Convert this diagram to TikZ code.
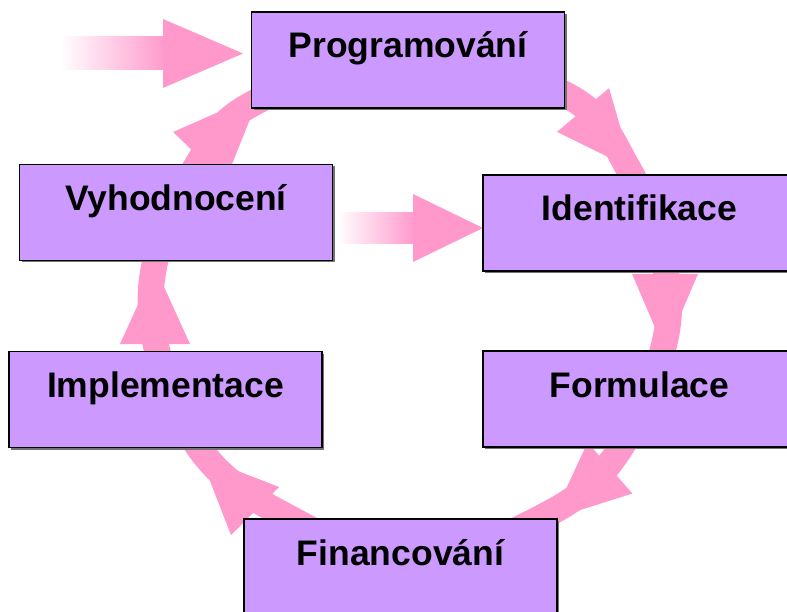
\documentclass[tikz,border=0pt]{standalone}
\usepackage{fontspec}
\setmainfont{Liberation Sans}
\usetikzlibrary{shadows}
\definecolor{boxfill}{HTML}{CC99FF}
\definecolor{ringpink}{HTML}{FF99CC}
\tikzset{
  stagebox/.style={draw=black, line width=1.6pt, fill=boxfill,
    minimum width=313pt, inner xsep=0pt, inner ysep=0pt,
    text height=46pt, text depth=50pt,
    font=\fontsize{35.5}{40}\selectfont\bfseries,
    drop shadow={shadow xshift=2pt, shadow yshift=-2pt, fill=black!55, opacity=1}},
  ringband/.style={draw=ringpink, line width=26pt},
  ringhead/.style={fill=ringpink},
  fadeshaft/.style={left color=white, right color=ringpink, draw=none},
}
\begin{document}
\begin{tikzpicture}[x=1pt,y=-1pt]
\clip (0,0) rectangle (787,612);
\fill[white] (0,0) rectangle (787,612);

% points of the cycle band (y grows downwards)
\coordinate (r1) at (408,50);
\coordinate (r2) at (568,96);
\coordinate (r3) at (628,168);
\coordinate (r4) at (664,262);
\coordinate (r5) at (664,345);
\coordinate (r6) at (618,452);
\coordinate (r7) at (548,514);
\coordinate (r8) at (410,562);
\coordinate (r9) at (282,514);
\coordinate (r10) at (202,452);
\coordinate (r11) at (157,350);
\coordinate (r12) at (155,262);
\coordinate (r13) at (197,165);
\coordinate (r14) at (252,104);

% the band behind the boxes
\draw[ringband] plot[smooth cycle, tension=0.6] coordinates
  {(r1) (r2) (r3) (r4) (r5) (r6) (r7) (r8) (r9) (r10) (r11) (r12) (r13) (r14)};

% arrow heads along the band (base midpoints)
\coordinate (hA) at (583,110);
\coordinate (hB) at (665,274);
\coordinate (hC) at (610,468);
\coordinate (hD) at (255,511);
\coordinate (hE) at (155,344);
\coordinate (hF) at (199,157);
\fill[ringhead, shift={(hA)}, rotate=-50]    (0,-34) -- (77,0) -- (0,34) -- cycle;
\fill[ringhead, shift={(hB)}, rotate=-90]    (0,-33) -- (77,0) -- (0,33) -- cycle;
\fill[ringhead, shift={(hC)}, rotate=-138.7] (0,-34) -- (77,0) -- (0,34) -- cycle;
\fill[ringhead, shift={(hD)}, rotate=135]    (0,-34) -- (77,0) -- (0,34) -- cycle;
\fill[ringhead, shift={(hE)}, rotate=90]     (0,-35) -- (77,0) -- (0,35) -- cycle;
\fill[ringhead, shift={(hF)}, rotate=46]     (0,-36) -- (88,0) -- (0,36) -- cycle;

% incoming arrow at the top left
\coordinate (gS) at (60,37);
\coordinate (gE) at (166,70);
\coordinate (gB1) at (163,19);
\coordinate (gB2) at (163,88);
\coordinate (gT) at (243,53.5);
\shade[fadeshaft] (gS) rectangle (gE);
\fill[ringhead] (gB1) -- (gT) -- (gB2) -- cycle;

% arrow from the evaluation box to the identification box
\coordinate (mS) at (337,212.5);
\coordinate (mE) at (415,243.5);
\coordinate (mB1) at (413,194);
\coordinate (mB2) at (413,262);
\coordinate (mT) at (483,228);
\shade[fadeshaft] (mS) rectangle (mE);
\fill[ringhead] (mB1) -- (mT) -- (mB2) -- cycle;

% stage boxes
\node[stagebox] (prog)  at (408,60)    {Programování};
\node[stagebox] (vyh)   at (176,212.5) {Vyhodnocení};
\node[stagebox] (ident) at (639.5,223) {Identifikace};
\node[stagebox] (form)  at (639.5,399) {Formulace};
\node[stagebox] (impl)  at (165.5,399.5) {Implementace};
\node[stagebox] (fin)   at (400.5,567) {Financování};
\end{tikzpicture}
\end{document}
